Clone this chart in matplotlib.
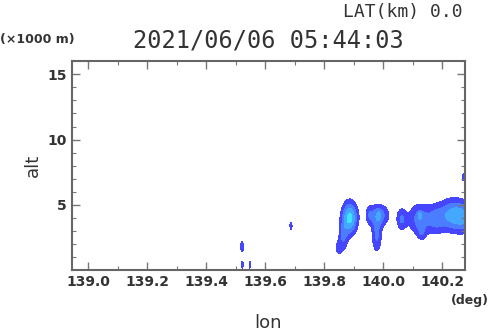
import numpy as np
import matplotlib
matplotlib.use("Agg")
import matplotlib.pyplot as plt

# Celdas de eco (lon en grados, alt en km)
cell_lon = [139.886, 139.864, 139.848, 139.983, 139.978, 139.985, 139.952,
            140.062, 140.125, 140.124, 140.130, 140.180, 140.235, 140.275,
            139.521, 139.522, 139.548, 139.687, 140.272]
cell_alt = [4.0, 2.5, 1.7, 4.2, 2.6, 4.2, 4.3,
            3.9, 3.9, 4.2, 2.8, 3.9, 4.2, 4.0,
            1.8, 0.4, 0.4, 3.4, 7.1]
cell_dlon = [0.018, 0.011, 0.008, 0.026, 0.012, 0.004, 0.006,
             0.012, 0.028, 0.004, 0.010, 0.020, 0.030, 0.020,
             0.005, 0.004, 0.004, 0.004, 0.005]
cell_dalt = [0.85, 0.8, 0.4, 0.6, 0.9, 0.25, 0.5,
             0.6, 0.85, 0.2, 0.4, 0.8, 0.85, 0.8,
             0.4, 0.3, 0.3, 0.3, 0.3]
cell_peak = [4.3, 1.8, 1.3, 2.6, 2.1, 0.8, 0.8,
             2.0, 2.5, 1.5, 1.0, 1.8, 3.4, 2.0,
             1.6, 1.4, 1.4, 1.5, 1.5]

levels = [1, 2, 3, 4, 20]
colors = ['#4646ff', '#4a7dff', '#45a8ff', '#3ee4ff']

xticks = [139.0, 139.2, 139.4, 139.6, 139.8, 140.0, 140.2]
yticks = [5, 10, 15]

lon = np.arange(138.94, 140.28, 0.002)
alt = np.arange(0, 16, 0.05)
LON, ALT = np.meshgrid(lon, alt)
campo = np.zeros_like(LON)
for x0, y0, sx, sy, p in zip(cell_lon, cell_alt, cell_dlon, cell_dalt, cell_peak):
    campo += p * np.exp(-0.5 * (((LON - x0) / sx) ** 2 + ((ALT - y0) / sy) ** 2))

txt = '#333333'
fig = plt.figure(figsize=(4.9, 3.31), dpi=100)
ax = fig.add_axes([0.146, 0.184, 0.803, 0.631])
ax.contourf(LON, ALT, campo, levels=levels, colors=colors)

ax.set_xticks(xticks)
ax.set_xticklabels(['%.1f' % v for v in xticks])
ax.set_xticks(np.arange(138.9, 140.3, 0.1), minor=True)
ax.set_yticks(yticks)
ax.set_yticks(np.arange(1, 16, 1), minor=True)
ax.set_xlim(138.943, 140.277)
ax.set_ylim(0, 16)
ax.tick_params(which='both', direction='in', top=True, right=True,
               colors='#777777', labelcolor=txt, labelsize=10)
ax.tick_params(which='major', length=6, width=1)
ax.tick_params(which='minor', length=3, width=0.8)
for lbl in ax.get_xticklabels() + ax.get_yticklabels():
    lbl.set_fontweight('bold')
for s in ax.spines.values():
    s.set_color('#666666')
    s.set_linewidth(1.5)

ax.set_xlabel('lon', fontsize=13, color=txt, labelpad=18)
ax.set_ylabel('alt', fontsize=13, color=txt, labelpad=4)

fig.text(0.548, 0.879, '2021/06/06 05:44:03', fontsize=17, family='DejaVu Sans Mono',
         color=txt, ha='center', va='center')
fig.text(0.945, 0.965, 'LAT(km) 0.0', fontsize=13, family='DejaVu Sans Mono',
         color=txt, ha='right', va='center')
fig.text(0.0, 0.88, '(×1000 m)', fontsize=9, fontweight='bold',
         color=txt, ha='left', va='center')
fig.text(0.998, 0.093, '(deg)', fontsize=9, fontweight='bold',
         color=txt, ha='right', va='center')

fig.savefig('out.png', dpi=100)
